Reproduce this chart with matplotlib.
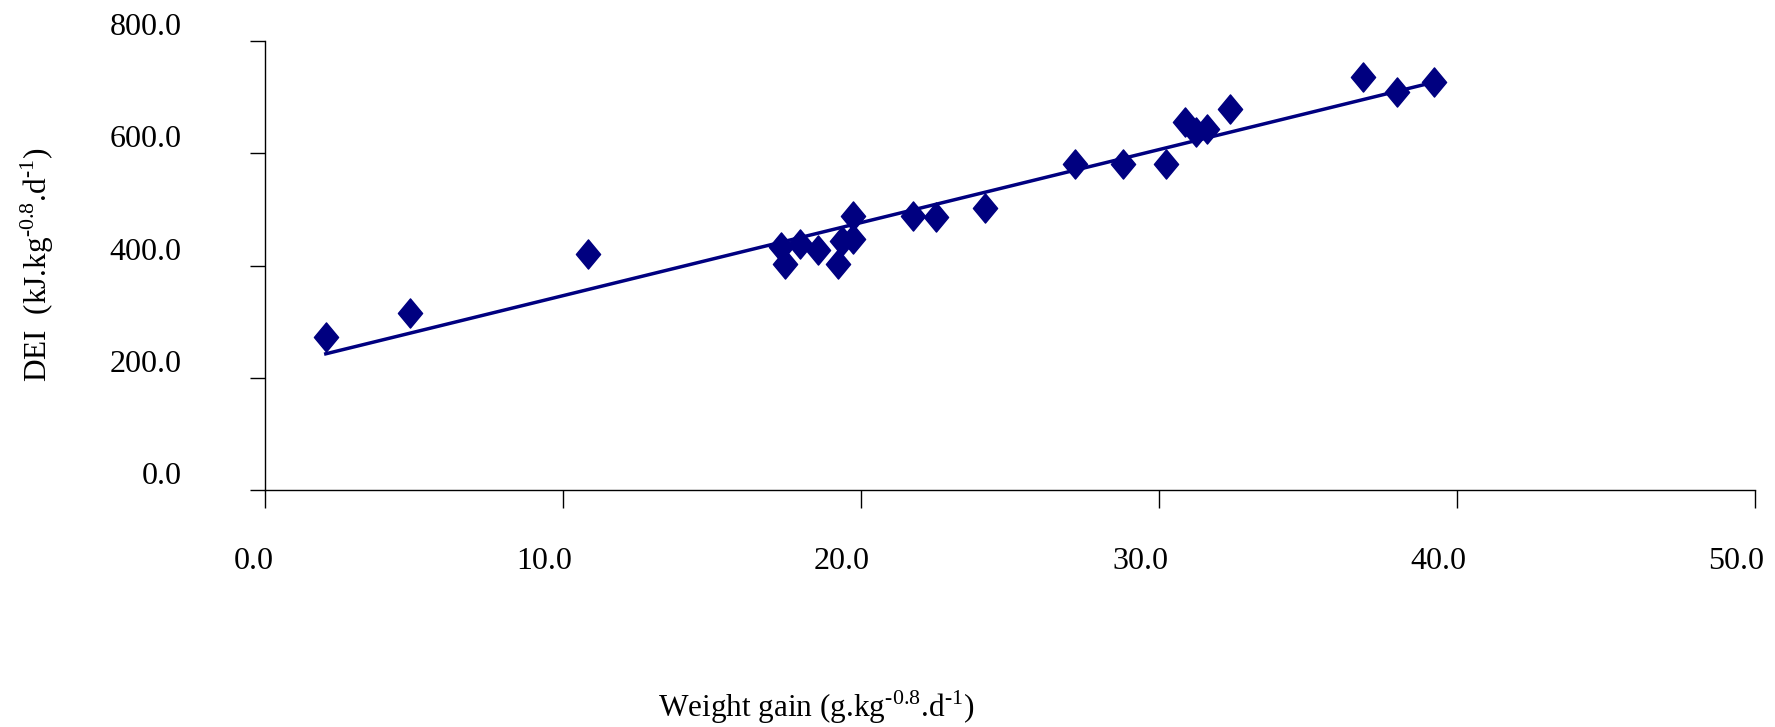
import numpy as np
import matplotlib
matplotlib.use("Agg")
import matplotlib.pyplot as plt
from matplotlib.path import Path
from matplotlib.transforms import ScaledTranslation

weight_gain = [2.04, 4.85, 10.85, 17.32, 17.46, 17.96, 18.57, 19.22, 19.35, 19.74, 19.74,
               21.73, 22.51, 24.15, 27.17, 28.8, 30.25, 30.86, 31.24, 31.6, 32.38,
               36.84, 37.98, 39.24]
dei = [273, 315, 421, 433, 403, 439, 428, 403, 443, 447, 489,
       488, 487, 503, 580, 580, 580, 655, 637, 644, 678,
       735, 710, 727]

x_ticks = [0, 10, 20, 30, 40, 50]
y_ticks = [0, 200, 400, 600, 800]

plt.rcParams['font.family'] = ['Liberation Serif', 'DejaVu Serif']
plt.rcParams['mathtext.fontset'] = 'custom'
plt.rcParams['mathtext.rm'] = 'Liberation Serif'
fig = plt.figure(figsize=(17.75, 7.27), dpi=100)
ax = fig.add_axes([265/1775, 1-490/727, (1755-265)/1775, (490-41)/727])

navy = '#000080'
diamond = Path([(0, 1), (0.83, 0), (0, -1), (-0.83, 0), (0, 1)],
               [Path.MOVETO, Path.LINETO, Path.LINETO, Path.LINETO, Path.CLOSEPOLY])

x = np.array(weight_gain)
y = np.array(dei)
b, a = np.polyfit(x, y, 1)
xs = np.array([x.min(), x.max()])
ax.plot(xs, a + b * xs, color=navy, lw=2.5, zorder=2)
ax.plot(x, y, linestyle='none', marker=diamond, markersize=21, color=navy, zorder=3)

ax.set_xlim(0, 50)
ax.set_ylim(0, 800)
ax.set_xticks(x_ticks)
ax.set_yticks(y_ticks)
ax.spines['top'].set_visible(False)
ax.spines['right'].set_visible(False)
for s in ['left', 'bottom']:
    ax.spines[s].set_linewidth(1.0)
ax.tick_params(axis='y', direction='out', length=11, width=1, pad=49, labelsize=23)
ax.tick_params(axis='x', direction='out', length=13, width=1, pad=28, labelsize=23)
ax.set_xticklabels([f"{v:.1f}" for v in x_ticks])
ax.set_yticklabels([f"{v:.1f}" for v in y_ticks])

xoff = ScaledTranslation(9/100, 0, fig.dpi_scale_trans)
for lbl in ax.get_xticklabels():
    lbl.set_horizontalalignment('right')
    lbl.set_transform(lbl.get_transform() + xoff)
yoff = ScaledTranslation(0, 17/100, fig.dpi_scale_trans)
for lbl in ax.get_yticklabels():
    lbl.set_transform(lbl.get_transform() + yoff)

fig.text(37/1775, 1-265/727, r'DEI  (kJ.kg$^{\text{-0.8}}$.d$^{\text{-1}}$)',
         rotation=90, ha='center', va='center', fontsize=22.5)
fig.text(816/1775, 1-707/727, r'Weight gain (g.kg$^{\text{-0.8}}$.d$^{\text{-1}}$)',
         ha='center', va='center', fontsize=22.5)

fig.savefig('out.png', dpi=100)
